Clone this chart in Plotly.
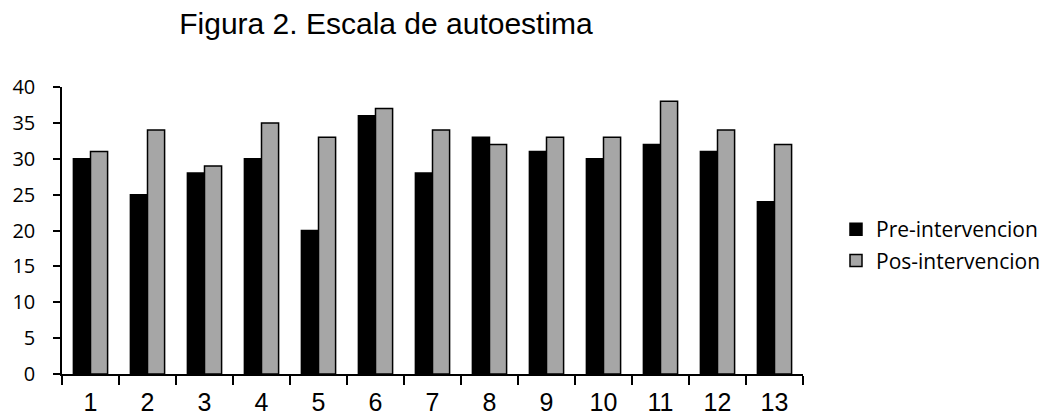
import plotly.graph_objects as go

# Participants and self-esteem scale scores
participantes = [str(i) for i in range(1, 14)]
pre_intervencion = [30, 25, 28, 30, 20, 36, 28, 33, 31, 30, 32, 31, 24]
pos_intervencion = [31, 34, 29, 35, 33, 37, 34, 32, 33, 33, 38, 34, 32]
y_ticks = [0, 5, 10, 15, 20, 25, 30, 35, 40]

fig = go.Figure()
fig.add_trace(go.Bar(
    x=participantes, y=pre_intervencion, name="Pre-intervencion",
    marker=dict(color="#000000", line=dict(color="#000000", width=1.5)),
    legendgroup="pre",
))
fig.add_trace(go.Bar(
    x=participantes, y=pos_intervencion, name="Pos-intervencion",
    marker=dict(color="#A6A6A6", line=dict(color="#000000", width=1.5)),
    legendgroup="pos",
))

fig.update_layout(
    width=1049, height=418,
    margin=dict(l=62, r=246, t=87, b=44, autoexpand=False),
    plot_bgcolor="white", paper_bgcolor="white",
    barmode="group", bargap=0.4, bargroupgap=0,
    title=dict(
        text="Figura 2. Escala de autoestima",
        font=dict(family="Liberation Sans", size=30, color="black"),
        xref="container", x=386 / 1049, xanchor="center",
        yref="container", y=1 - 23 / 418, yanchor="middle",
    ),
    legend=dict(
        xref="container", yref="container",
        x=836 / 1049, y=1 - 245 / 418, xanchor="left", yanchor="middle",
        font=dict(family="Open Sans", size=21, color="black"),
        tracegroupgap=1, itemwidth=30,
    ),
    showlegend=True,
)

fig.update_xaxes(
    type="category", range=[-0.5, 12.5], automargin=False,
    showline=True, linecolor="black", linewidth=1.5,
    ticks="outside", tickson="boundaries", ticklen=9, tickcolor="black", tickwidth=1.5,
    tickfont=dict(family="Liberation Sans", size=25, color="black"),
    ticklabelstandoff=5,
    showgrid=False, zeroline=False,
)
fig.update_yaxes(
    range=[0, 40], tickvals=y_ticks, automargin=False,
    showline=True, linecolor="black", linewidth=1.5,
    ticks="outside", ticklen=7, tickcolor="black", tickwidth=1.5,
    tickfont=dict(family="Open Sans", size=20, color="black"),
    ticklabelstandoff=14,
    showgrid=False, zeroline=False,
)

fig.write_html("out.html")
